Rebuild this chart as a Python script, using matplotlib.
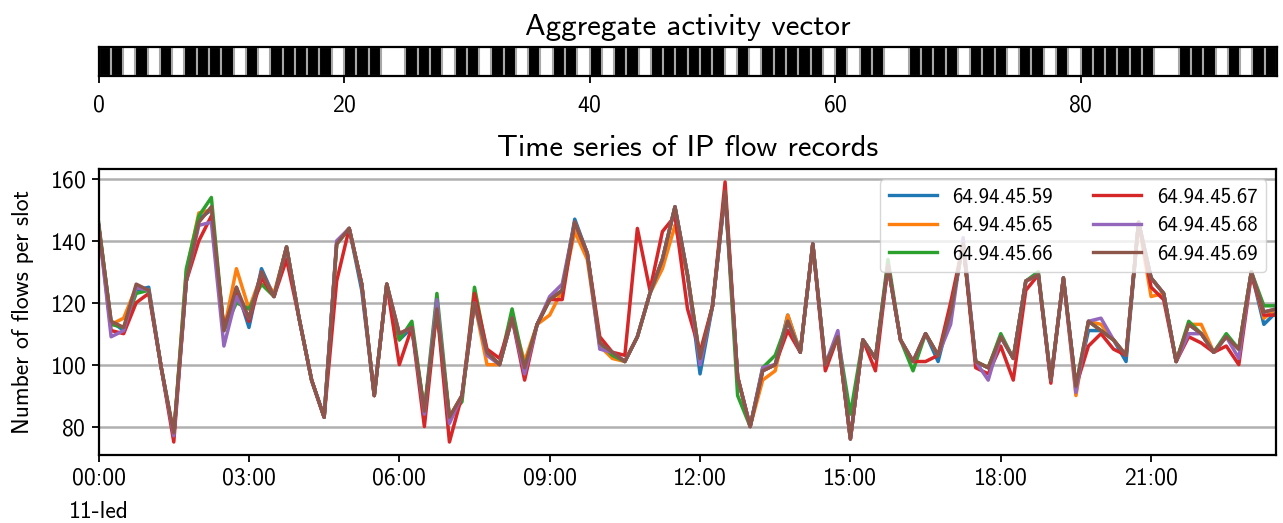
import numpy as np
import matplotlib
matplotlib.use("Agg")
import matplotlib.pyplot as plt

plt.rcParams['font.family'] = ['cmss10', 'DejaVu Sans']
plt.rcParams['axes.formatter.use_mathtext'] = True

# ---------------- data ----------------
activity = [1, 1, 0, 1, 0, 1, 0, 1, 1, 1,
            1, 0, 1, 0, 1, 1, 1, 1, 1, 0,
            1, 1, 1, 0, 0, 1, 1, 1, 0, 1,
            1, 0, 1, 1, 0, 1, 0, 1, 1, 0,
            1, 0, 1, 1, 0, 1, 1, 1, 1, 1,
            1, 0, 1, 0, 1, 1, 1, 1, 1, 0,
            1, 0, 1, 1, 0, 0, 1, 1, 1, 1,
            0, 1, 1, 1, 0, 1, 1, 0, 1, 0,
            1, 1, 1, 1, 1, 1, 0, 0, 1, 1,
            1, 0, 1, 0, 1, 1]

labels = ["64.94.45.59", "64.94.45.65", "64.94.45.66",
          "64.94.45.67", "64.94.45.68", "64.94.45.69"]

s59 = [145, 114, 111, 124, 125, 99, 77, 127, 147, 150,
       111, 125, 112, 131, 122, 138, 115, 95, 83, 139,
       144, 124, 90, 126, 108, 112, 85, 118, 83, 90,
       120, 104, 100, 115, 99, 113, 121, 124, 147, 136,
       107, 104, 101, 109, 123, 134, 151, 129, 97, 119,
       156, 96, 80, 98, 100, 116, 104, 139, 100, 109,
       76, 108, 102, 132, 108, 101, 110, 101, 117, 139,
       101, 99, 109, 102, 127, 129, 95, 128, 93, 111,
       111, 108, 101, 146, 128, 123, 101, 113, 110, 104,
       109, 105, 130, 113, 117]

s65 = [145, 113, 115, 125, 124, 99, 77, 130, 149, 150,
       111, 131, 118, 129, 123, 138, 115, 95, 83, 139,
       144, 126, 90, 126, 110, 112, 85, 118, 83, 90,
       120, 100, 100, 115, 101, 113, 116, 124, 143, 134,
       106, 102, 101, 109, 123, 131, 145, 129, 102, 119,
       156, 96, 80, 95, 98, 116, 104, 139, 100, 109,
       76, 108, 102, 132, 108, 101, 110, 103, 117, 139,
       101, 99, 109, 102, 127, 129, 95, 128, 90, 114,
       113, 108, 103, 146, 122, 123, 101, 113, 113, 104,
       109, 105, 130, 115, 118]

s66 = [146, 113, 112, 123, 124, 99, 77, 131, 148, 154,
       111, 120, 118, 126, 122, 138, 115, 95, 83, 139,
       144, 126, 90, 126, 108, 114, 85, 123, 83, 88,
       125, 104, 100, 118, 99, 113, 121, 124, 146, 136,
       107, 103, 101, 109, 123, 134, 151, 129, 102, 119,
       156, 90, 80, 99, 103, 114, 104, 139, 100, 109,
       84, 108, 102, 134, 108, 98, 110, 103, 117, 139,
       101, 99, 110, 102, 127, 130, 95, 128, 93, 114,
       111, 108, 103, 146, 128, 123, 101, 114, 110, 104,
       110, 105, 130, 119, 119]

s67 = [145, 111, 110, 120, 123, 99, 75, 127, 140, 148,
       112, 123, 114, 128, 122, 134, 115, 95, 83, 127,
       144, 126, 90, 126, 100, 112, 80, 118, 75, 90,
       123, 105, 102, 115, 95, 113, 121, 121, 146, 136,
       109, 104, 103, 144, 124, 143, 148, 118, 104, 119,
       159, 96, 80, 98, 100, 111, 104, 139, 98, 109,
       76, 108, 98, 132, 108, 101, 101, 103, 120, 139,
       99, 97, 106, 95, 124, 129, 94, 128, 93, 106,
       110, 105, 103, 146, 125, 121, 101, 109, 107, 104,
       106, 100, 129, 116, 116]

s68 = [145, 109, 111, 125, 124, 99, 77, 127, 145, 146,
       106, 122, 115, 130, 122, 138, 115, 95, 83, 140,
       144, 126, 90, 126, 110, 112, 84, 121, 81, 90,
       120, 103, 100, 115, 97, 113, 122, 126, 146, 136,
       105, 104, 101, 109, 123, 134, 151, 129, 100, 119,
       155, 96, 80, 99, 100, 114, 104, 139, 100, 111,
       76, 108, 102, 132, 108, 101, 110, 103, 113, 141,
       101, 95, 109, 102, 127, 129, 95, 128, 91, 114,
       115, 108, 103, 146, 128, 123, 101, 110, 110, 104,
       109, 102, 130, 117, 118]

s69 = [145, 114, 112, 126, 124, 99, 78, 127, 146, 151,
       111, 125, 115, 130, 122, 138, 115, 95, 83, 139,
       144, 126, 90, 126, 110, 112, 85, 118, 83, 90,
       120, 104, 100, 115, 99, 113, 121, 124, 146, 136,
       107, 104, 101, 109, 123, 134, 151, 129, 102, 119,
       156, 96, 80, 98, 100, 114, 104, 139, 100, 109,
       76, 108, 102, 132, 108, 101, 110, 103, 117, 139,
       101, 99, 109, 102, 127, 129, 95, 128, 93, 114,
       111, 108, 103, 146, 128, 123, 101, 113, 110, 104,
       109, 105, 130, 117, 118]

series = [s59, s65, s66, s67, s68, s69]
colors = ["#1f77b4", "#ff7f0e", "#2ca02c", "#d62728", "#9467bd", "#8c564b"]

slot_minutes = 15
time_ticks = [0, 3, 6, 9, 12, 15, 18, 21]
time_ticklabels = ["00:00\n11-led", "03:00", "06:00", "09:00",
                   "12:00", "15:00", "18:00", "21:00"]
yticks = [80, 100, 120, 140, 160]

# ---------------- figure ----------------
W, H = 1283, 523
fig = plt.figure(figsize=(W / 100, H / 100), dpi=100)

def rect(x0, y0, x1, y1):
    return [x0 / W, 1 - y1 / H, (x1 - x0) / W, (y1 - y0) / H]

# top: activity vector
ax1 = fig.add_axes(rect(98.5, 47, 1277, 75.5))
idx = np.arange(len(activity))
act = np.array(activity)
on = idx[act == 1]
ax1.bar(on, np.ones(len(on)), width=1.0, align='edge', color='black',
        edgecolor='#a8a8a8', linewidth=1.5)
ax1.set_xlim(0, len(activity))
ax1.set_ylim(0, 1)
ax1.set_yticks([])
ax1.set_xticks([0, 20, 40, 60, 80])
ax1.tick_params(axis='x', labelsize=17, length=5, width=1.3, pad=8.5)
for sp in ax1.spines.values():
    sp.set_linewidth(1.6)
    sp.set_zorder(5)
ax1.set_title("Aggregate activity vector", fontsize=22.3, pad=9)

# bottom: time series
ax2 = fig.add_axes(rect(98.6, 169, 1276.4, 455))
hours = np.arange(len(s69)) * slot_minutes / 60.0
for s, c, lab in zip(series, colors, labels):
    ax2.plot(hours, s, color=c, lw=2.5, label=lab)
ax2.set_xlim(hours[0], hours[-1])
ax2.set_ylim(70.8, 163.2)
ax2.set_yticks(yticks)
ax2.set_xticks(time_ticks)
ax2.set_xticklabels(time_ticklabels, linespacing=1.65)
ax2.yaxis.grid(True, color='#b0b0b0', lw=1.8)
ax2.set_axisbelow(True)
ax2.tick_params(labelsize=17, length=5, width=1.3, pad=4)
for sp in ax2.spines.values():
    sp.set_linewidth(1.6)
ax2.set_ylabel("Number of flows per slot", fontsize=17, labelpad=11)
ax2.set_title("Time series of IP flow records", fontsize=22, pad=9)
leg = ax2.legend(ncol=2, loc='upper right', fontsize=15, handlelength=2.3,
                 handletextpad=0.75, columnspacing=1.95, labelspacing=0.45,
                 borderaxespad=0.5)
for line in leg.get_lines():
    line.set_linewidth(2.4)

fig.savefig("out.png", dpi=100)
